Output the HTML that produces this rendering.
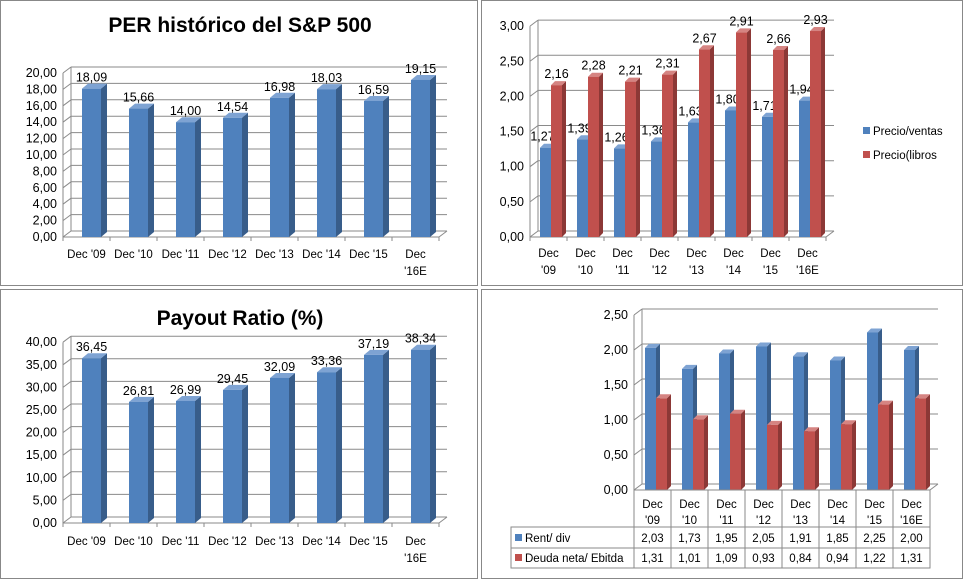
<!DOCTYPE html>
<html><head><meta charset="utf-8">
<style>
html,body{margin:0;padding:0;background:#fff;}
svg{display:block;font-family:"Liberation Sans",Arial,sans-serif;}
</style></head>
<body>
<svg id="s" width="964" height="581" viewBox="0 0 964 581" xmlns="http://www.w3.org/2000/svg">
<rect x="0" y="0" width="964" height="581" fill="#fff"/>
<rect x="0.5" y="0.5" width="477" height="285" fill="#fff" stroke="#888"/>
<rect x="481.5" y="0.5" width="481" height="285" fill="#fff" stroke="#888"/>
<rect x="0.5" y="289.5" width="477" height="289" fill="#fff" stroke="#888"/>
<rect x="481.5" y="289.5" width="481" height="289" fill="#fff" stroke="#888"/>
<text x="240" y="32" font-size="21" font-weight="bold" text-anchor="middle">PER histórico del S&amp;P 500</text>
<text x="240" y="325" font-size="21" font-weight="bold" text-anchor="middle">Payout Ratio (%)</text>
<g><rect x="863" y="127" width="7" height="7" fill="#4F81BD"/><text x="873" y="135" font-size="11.5">Precio/ventas</text></g>
<g><rect x="863" y="151" width="7" height="7" fill="#C0504D"/><text x="873" y="159" font-size="11.5">Precio(libros</text></g>
</svg>
<script>
const cats1 = ["Dec '09","Dec '10","Dec '11","Dec '12","Dec '13","Dec '14","Dec '15","Dec '16E"];
const perValues = [18.09,15.66,14.00,14.54,16.98,18.03,16.59,19.15];
const perTicks = [0,2,4,6,8,10,12,14,16,18,20];
const payoutValues = [36.45,26.81,26.99,29.45,32.09,33.36,37.19,38.34];
const payoutTicks = [0,5,10,15,20,25,30,35,40];
const precioVentas = [1.27,1.39,1.26,1.36,1.63,1.80,1.71,1.94];
const precioLibros = [2.16,2.28,2.21,2.31,2.67,2.91,2.66,2.93];
const ratioTicks = [0,0.5,1,1.5,2,2.5,3];
const rentDiv = [2.03,1.73,1.95,2.05,1.91,1.85,2.25,2.00];
const deudaEbitda = [1.31,1.01,1.09,0.93,0.84,0.94,1.22,1.31];
const yieldTicks = [0,0.5,1,1.5,2,2.5];

const NS="http://www.w3.org/2000/svg";
const svg=document.getElementById('s');
function mk(tag,attrs,parent){const e=document.createElementNS(NS,tag);for(const k in attrs)e.setAttribute(k,attrs[k]);(parent||svg).appendChild(e);return e;}
const fmt=v=>v.toFixed(2).replace('.',',');
const COL={blue:["#4F81BD","#385D8A","#7EA3D3"],red:["#C0504D","#8C3836","#D58482"]};

function chart(c){
  const g=mk('g',{});
  
  
  const n=c.cats.length, xEnd=c.x0+n*c.cw;
  const y=v=>c.y0-v*c.k;
  const dx=c.dx, dy=c.dy;
  c.ticks.forEach(t=>{
    const gl=mk('line',{x1:c.x0+dx,y1:y(t)+dy,x2:xEnd+dx,y2:y(t)+dy,stroke:'#8a8a8a','stroke-width':1},g);
    
    
    mk('line',{x1:c.x0,y1:y(t),x2:c.x0+dx,y2:y(t)+dy,stroke:'#8a8a8a'},g);
    const tl=mk('text',{x:c.x0-6,y:y(t)+4,'font-size':12.5,'text-anchor':'end'},g);
    tl.textContent=fmt(t);
    
    
  });
  const top=c.ticks[c.ticks.length-1];
  mk('line',{x1:c.x0+dx,y1:y(0)+dy,x2:c.x0+dx,y2:y(top)+dy,stroke:'#8a8a8a'},g);
  mk('line',{x1:c.x0,y1:y(0),x2:c.x0,y2:y(top),stroke:'#8a8a8a'},g);
  mk('line',{x1:c.x0,y1:c.y0,x2:xEnd,y2:c.y0,stroke:'#8a8a8a'},g);
  mk('line',{x1:xEnd,y1:c.y0,x2:xEnd+dx,y2:c.y0+dy,stroke:'#8a8a8a'},g);
  for(let i=0;i<=n;i++) mk('line',{x1:c.x0+i*c.cw,y1:c.y0,x2:c.x0+i*c.cw,y2:c.y0+4,stroke:'#8a8a8a'},g);
  c.series.forEach(s=>{
    const [fc,sc,tc]=COL[s.color];
    s.values.forEach((v,i)=>{
      const bx=c.x0+i*c.cw+s.off, bw=s.w, by=y(v), bd=c.bd, bdy=c.bdy;
      const bg=mk('g',{},g);
      
      
      mk('polygon',{points:`${bx+bw},${by} ${bx+bw+bd},${by+bdy} ${bx+bw+bd},${c.y0+bdy} ${bx+bw},${c.y0}`,fill:sc},bg);
      mk('polygon',{points:`${bx},${by} ${bx+bd},${by+bdy} ${bx+bw+bd},${by+bdy} ${bx+bw},${by}`,fill:tc},bg);
      mk('rect',{x:bx,y:by,width:bw,height:c.y0-by,fill:fc},bg);
      if(c.labels){
        const t=mk('text',{x:bx+bw/2+(s.lx||0),y:by-7,'font-size':12.5,'text-anchor':'middle'},g);
        t.textContent=fmt(v);
        
        
      }
    });
  });
  if(c.catY){
    c.cats.forEach((cat,i)=>{
      const cx=c.x0+(i+0.5)*c.cw;
      const parts = c.twoLine || cat.indexOf('E')>=0 ? cat.split(' ') : [cat];
      parts.forEach((p,j)=>{
        const t=mk('text',{x:cx,y:c.catY+j*17,'font-size':11.5,'text-anchor':'middle'},g);
        t.textContent=p;
        
        
      });
    });
  }
  return g;
}

chart({name:'per-chart',cats:cats1,x0:63,cw:47,y0:237,k:8.2,dx:8,dy:-6,bd:6,bdy:-5,ticks:perTicks,labels:true,catY:258,
  series:[{name:'per',values:perValues,color:'blue',off:19,w:19}]});
chart({name:'payout-chart',cats:cats1,x0:63,cw:47,y0:523,k:4.52,dx:8,dy:-6,bd:6,bdy:-5,ticks:payoutTicks,labels:true,catY:545,
  series:[{name:'payout',values:payoutValues,color:'blue',off:19,w:19}]});
chart({name:'price-ratios-chart',cats:cats1,x0:530,cw:37,y0:237,k:70.3,dx:8,dy:-6,bd:4,bdy:-4,ticks:ratioTicks,labels:true,catY:257,twoLine:true,
  series:[{name:'precio-ventas',values:precioVentas,color:'blue',off:10,w:11,lx:-3},{name:'precio-libros',values:precioLibros,color:'red',off:21,w:11,lx:0}]});
chart({name:'yield-debt-chart',cats:cats1,x0:634,cw:37,y0:490,k:70,dx:8,dy:-6,bd:4,bdy:-4,ticks:yieldTicks,labels:false,catY:null,
  series:[{name:'rent-div',values:rentDiv,color:'blue',off:11,w:11},{name:'deuda-ebitda',values:deudaEbitda,color:'red',off:22,w:11}]});

(function(){
  const g=mk('g',{});
  
  
  const x0=634,cw=37,n=cats1.length,xe=x0+n*cw,lx=511;
  const st={stroke:'#8a8a8a','stroke-width':1,fill:'none'};
  mk('rect',Object.assign({x:x0,y:490,width:n*cw,height:78},st),g);
  mk('rect',Object.assign({x:lx,y:527,width:xe-lx,height:41},st),g);
  mk('line',Object.assign({x1:lx,y1:548,x2:xe,y2:548},st),g);
  for(let i=1;i<n;i++) mk('line',Object.assign({x1:x0+i*cw,y1:490,x2:x0+i*cw,y2:568},st),g);
  cats1.forEach((cat,i)=>{
    const cx=x0+(i+0.5)*cw;
    cat.split(' ').forEach((p,j)=>{
      const t=mk('text',{x:cx,y:508+j*16,'font-size':11.5,'text-anchor':'middle'},g);
      t.textContent=p;
      
      
    });
    [[rentDiv,542],[deudaEbitda,562]].forEach(([arr,yy])=>{
      const t=mk('text',{x:cx,y:yy,'font-size':11.5,'text-anchor':'middle'},g);
      t.textContent=fmt(arr[i]);
      
      
    });
  });
  [['Rent/ div','#4F81BD',542],['Deuda neta/ Ebitda','#C0504D',562]].forEach(([lab,col,yy])=>{
    mk('rect',{x:515,y:yy-8,width:7,height:7,fill:col},g);
    const t=mk('text',{x:525,y:yy,'font-size':11.5},g);
    t.textContent=lab;
    
    
  });
})();
</script>
</body></html>
